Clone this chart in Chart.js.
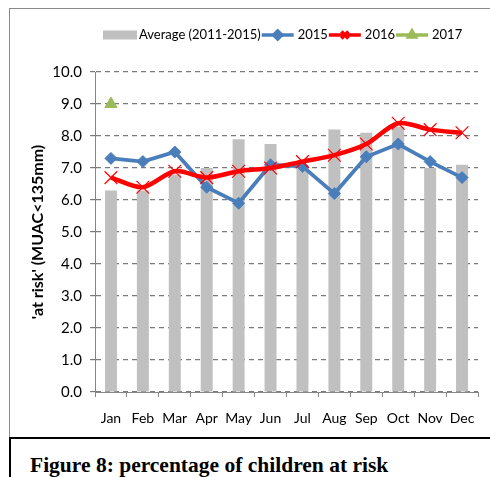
<!DOCTYPE html>
<html>
<head>
<meta charset="utf-8">
<script src="https://cdn.jsdelivr.net/npm/chart.js@4/dist/chart.umd.min.js"></script>
<style>
  html, body { margin: 0; padding: 0; background: #fff; }
  #wrap { position: relative; width: 490px; height: 477px; overflow: hidden; }
  #chart { position: absolute; left: 0; top: 0; }
  #frame { position: absolute; left: 9px; top: 8px; width: 490px; height: 429px;
           border-left: 1px solid #8a8a8a; border-top: 1px solid #8a8a8a; box-sizing: border-box; }
  #capbox { position: absolute; left: 9px; top: 437px; width: 490px; height: 60px;
            border-left: 2px solid #000; border-top: 2px solid #000; box-sizing: border-box; }
  #caption { position: absolute; left: 30px; top: 453px; font-family: "Liberation Serif", "Times New Roman", serif;
             font-weight: bold; font-size: 21.5px; color: #000; white-space: nowrap; }
</style>
</head>
<body>
<div id="wrap">
  <div id="frame"></div>
  <div id="capbox"></div>
  <div id="caption">Figure 8: percentage of children at risk</div>
  <canvas id="chart" width="490" height="477"></canvas>
</div>
<script>
// Monthly share of children 'at risk' (MUAC < 135mm)
const months = ['Jan','Feb','Mar','Apr','May','Jun','Jul','Aug','Sep','Oct','Nov','Dec'];
const average2011_2015 = [6.3, 6.3, 6.8, 7.0, 7.9, 7.75, 7.1, 8.2, 8.1, 8.3, 7.0, 7.1];
const y2015 = [7.3, 7.2, 7.5, 6.4, 5.9, 7.1, 7.05, 6.2, 7.35, 7.75, 7.2, 6.7];
const y2016 = [6.7, 6.4, 6.9, 6.7, 6.9, 7.0, 7.2, 7.4, 7.75, 8.4, 8.2, 8.1];
const y2017 = [9.0, null, null, null, null, null, null, null, null, null, null, null];
const yTicks = [0, 1, 2, 3, 4, 5, 6, 7, 8, 9, 10];

const labelFont = '"Lato", "Open Sans", sans-serif';

// Legend drawn as a single row: swatch / line-with-marker followed by its label
const rowLegend = {
  id: 'rowLegend',
  afterDraw(chart) {
    const ctx = chart.ctx;
    const yMid = 35;
    let x = 103;
    ctx.save();
    ctx.font = '13px ' + labelFont;
    ctx.textBaseline = 'middle';
    chart.data.datasets.forEach(ds => {
      if (ds.type === 'bar') {
        ctx.fillStyle = ds.backgroundColor;
        ctx.fillRect(x, yMid - 4.5, 34, 9);
        x += 36;
      } else {
        ctx.strokeStyle = ds.borderColor;
        ctx.lineWidth = 3.5;
        ctx.beginPath();
        ctx.moveTo(x, yMid);
        ctx.lineTo(x + 32, yMid);
        ctx.stroke();
        ctx.fillStyle = ds.pointBackgroundColor;
        ctx.strokeStyle = ds.pointBorderColor;
        Chart.helpers.drawPoint(ctx, {
          pointStyle: ds.pointStyle,
          radius: ds.pointStyle === 'crossRot' ? 5 : 4,
          borderWidth: ds.pointBorderWidth || 1
        }, x + 16, yMid);
        x += 36;
      }
      ctx.fillStyle = '#000';
      ctx.fillText(ds.label, x, yMid);
      x += ctx.measureText(ds.label).width + 1;
    });
    ctx.restore();
  }
};

new Chart(document.getElementById('chart'), {
  data: {
    labels: months,
    datasets: [
      {
        type: 'bar', label: 'Average (2011-2015)', data: average2011_2015, order: 5,
        backgroundColor: '#c0c0c0', borderWidth: 0,
        categoryPercentage: 1.0, barPercentage: 0.375
      },
      {
        type: 'line', label: '2015', data: y2015, order: 3,
        borderColor: '#4a7ebb', backgroundColor: '#4a7ebb', borderWidth: 3.8,
        pointStyle: 'rectRot', pointRadius: 6, pointBackgroundColor: '#4a7ebb',
        pointBorderColor: '#4a7ebb', pointBorderWidth: 1, tension: 0
      },
      {
        type: 'line', label: '2016', data: y2016, order: 2,
        borderColor: '#ff0000', backgroundColor: '#ff0000', borderWidth: 4.5,
        pointStyle: 'crossRot', pointRadius: 9, pointBackgroundColor: '#ff0000',
        pointBorderColor: '#ff0000', pointBorderWidth: 1.2, tension: 0.3
      },
      {
        type: 'line', label: '2017', data: y2017, order: 1,
        borderColor: '#9bbb59', backgroundColor: '#9bbb59', borderWidth: 3.5,
        pointStyle: 'triangle', pointRadius: 7, pointBackgroundColor: '#9bbb59',
        pointBorderColor: '#9bbb59', pointBorderWidth: 1, showLine: false
      }
    ]
  },
  options: {
    responsive: false,
    animation: false,
    events: [],
    layout: { padding: { left: 10, right: 12, top: 72, bottom: 0 } },
    plugins: { legend: { display: false }, tooltip: { enabled: false } },
    scales: {
      x: {
        offset: true,
        afterFit(scale) { scale.height = 85; },
        grid: { drawOnChartArea: false, drawTicks: true, tickLength: 5, color: '#868686', offset: true },
        border: { display: true, color: '#868686', width: 1 },
        ticks: { color: '#000', font: { family: labelFont, size: 14 }, padding: 13, maxRotation: 0, autoSkip: false }
      },
      y: {
        min: 0, max: 10,
        afterFit(scale) { scale.width = 85; },
        afterBuildTicks(scale) { scale.ticks = yTicks.map(v => ({ value: v })); },
        grid: { color: '#7a7a7a', lineWidth: 1.2, tickLength: 5, drawTicks: true },
        border: { display: true, color: '#868686', width: 1, dash: [5, 4] },
        ticks: {
          color: '#000', font: { family: labelFont, size: 15 }, padding: 8,
          callback: v => Number(v).toFixed(1)
        },
        title: {
          display: true, text: "'at risk' (MUAC<135mm)", color: '#000',
          font: { family: labelFont, size: 16, weight: 'bold' },
          padding: { top: 18, bottom: 0 }
        }
      }
    }
  },
  plugins: [rowLegend]
});
</script>
</body>
</html>
